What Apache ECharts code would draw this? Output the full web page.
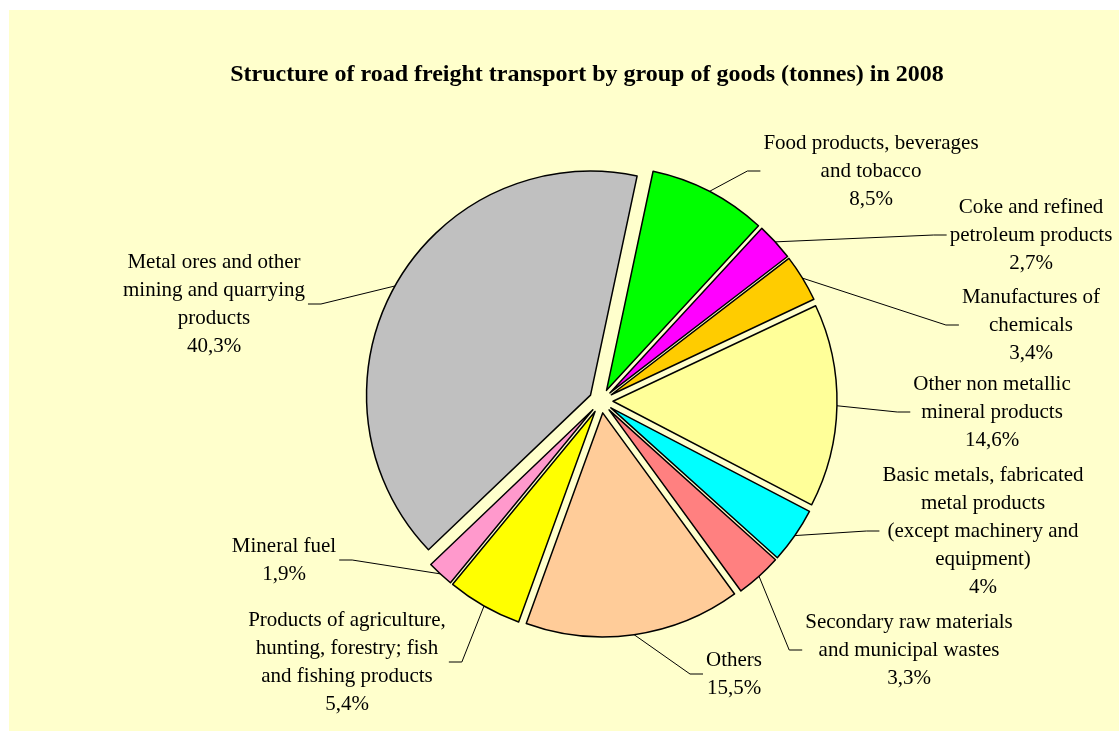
<!DOCTYPE html>
<html>
<head>
<meta charset="utf-8">
<script src="https://cdn.jsdelivr.net/npm/echarts@6/dist/echarts.min.js"></script>
<style>
    html, body { margin: 0; padding: 0; background: #ffffff; }
    #chart { width: 1119px; height: 731px; }
</style>
</head>
<body>
<div id="chart"></div>
<script>
// Goods groups, clockwise from the top
const categories = [
    'Food products, beverages\nand tobacco',
    'Coke and refined\npetroleum products',
    'Manufactures of\nchemicals',
    'Other non metallic\nmineral products',
    'Basic metals, fabricated\nmetal products\n(except machinery and\nequipment)',
    'Secondary raw materials\nand municipal wastes',
    'Others',
    'Products of agriculture,\nhunting, forestry; fish\nand fishing products',
    'Mineral fuel',
    'Metal ores and other\nmining and quarrying\nproducts'
];
const shares = [8.5, 2.7, 3.4, 14.6, 4, 3.3, 15.5, 5.4, 1.9, 40.3];
const sliceColors = ['#00ff00', '#ff00ff', '#ffcc00', '#ffff99', '#00ffff',
    '#ff8080', '#ffcc99', '#ffff00', '#ff99cc', '#c0c0c0'];

// centre of each label block
const labelPos = [
    [871, 171], [1031, 235], [1031, 325], [992, 412], [983, 531],
    [909, 650], [734, 674], [347, 662], [284, 560], [214, 304]
];

const chart = echarts.init(document.getElementById('chart'));

const serif = '"Liberation Serif", "Times New Roman", serif';
const pieCenter = [601, 401];
const startAngle = 78;
const explode = 12;

// every slice is pulled out along its own middle angle, so each one
// gets its own pie series where the other slices are left invisible
const total = shares.reduce((a, b) => a + b, 0);
let before = 0;
const series = shares.map((share, i) => {
    const mid = (startAngle - (before + share / 2) / total * 360) * Math.PI / 180;
    before += share;
    return {
        type: 'pie',
        center: [pieCenter[0] + explode * Math.cos(mid), pieCenter[1] - explode * Math.sin(mid)],
        radius: 224,
        startAngle: startAngle,
        clockwise: true,
        avoidLabelOverlap: false,
        emphasis: { disabled: true },
        label: {
            position: 'outside',
            fontFamily: serif,
            fontSize: 21,
            lineHeight: 28,
            color: '#000',
            align: 'center',
            padding: [0, 3],
            formatter: p => p.name + '\n' + String(p.value).replace('.', ',') + '%'
        },
        labelLine: {
            length: 15,
            length2: 13,
            lineStyle: { color: '#000', width: 1 }
        },
        labelLayout: params => {
            if (params.dataIndex !== i) return {};
            const pos = labelPos[i];
            return { x: pos[0], y: pos[1], align: 'center', verticalAlign: 'middle' };
        },
        data: categories.map((name, j) => j === i ? {
            name: name,
            value: shares[j],
            itemStyle: { color: sliceColors[j], borderColor: '#000', borderWidth: 1.5 },
            label: { show: true },
            labelLine: { show: true }
        } : {
            name: name,
            value: shares[j],
            itemStyle: { color: 'rgba(0,0,0,0)', borderWidth: 0 },
            label: { show: false },
            labelLine: { show: false }
        })
    };
});

const option = {
    animation: false,
    backgroundColor: '#ffffff',
    graphic: [{
        type: 'rect',
        z: -10,
        shape: { x: 9, y: 10, width: 1110, height: 721 },
        style: { fill: '#ffffcc' },
        silent: true
    }],
    title: {
        text: 'Structure of road freight transport by group of goods (tonnes) in 2008',
        left: 587,
        top: 63,
        padding: 0,
        textAlign: 'center',
        textStyle: {
            fontFamily: serif,
            fontWeight: 'bold',
            fontSize: 24,
            color: '#000'
        }
    },
    series: series
};

chart.setOption(option);
</script>
</body>
</html>
